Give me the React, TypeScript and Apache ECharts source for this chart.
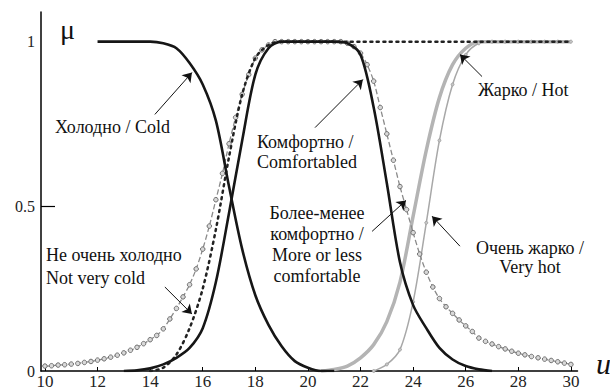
import React, { useEffect, useRef } from "react";
import * as echarts from "echarts";

const N = null;
// x grid (u, °C) at 0.5 steps from 10 to 30
const U = Array.from({ length: 41 }, (_, i) => 10 + i * 0.5);
// x grid at 0.25 steps for the marker series
const U4 = Array.from({ length: 81 }, (_, i) => 10 + i * 0.25);

const xTicks = [10, 12, 14, 16, 18, 20, 22, 24, 26, 28, 30];
const yLabels = [0, 0.5, 1];
const yTicks = [0.5];

// Холодно / Cold
const cold = [N, N, N, N, 1, 1, 1, 1, 1, 0.995, 0.98, 0.935, 0.87, 0.76, 0.56, 0.37, 0.23, 0.14, 0.075, 0.03, 0.01, 0, 0,
  N, N, N, N, N, N, N, N, N, N, N, N, N, N, N, N, N, N];
// Комфортно / Comfortabled
const comfort = [N, N, N, N, N, N, 0, 0.002, 0.008, 0.02, 0.04, 0.07, 0.13, 0.27, 0.48, 0.7, 0.9, 0.98, 1, 1, 1, 1, 1,
  0.995, 0.96, 0.8, 0.57, 0.33, 0.2, 0.13, 0.07, 0.035, 0.015, 0.005, 0, N, N, N, N, N, N];
// Не очень холодно / Not very cold
const notVeryCold = [N, N, N, N, N, N, N, N, 0, 0.01, 0.05, 0.13, 0.25, 0.43, 0.65, 0.84, 0.95, 0.99,
  1, 1, 1, 1, 1, 1, 1, 1, 1, 1, 1, 1, 1, 1, 1, 1, 1, 1, 1, 1, 1, 1, 1];
// Жарко / Hot
const hot = [N, N, N, N, N, N, N, N, N, N, N, N, N, N, N, N, N, N, N, N, N,
  0, 0.005, 0.015, 0.04, 0.08, 0.15, 0.27, 0.47, 0.67, 0.83, 0.93, 0.98, 1, 1, 1, 1, 1, 1, 1, 1];
// Очень жарко / Very hot
const veryHot = [N, N, N, N, N, N, N, N, N, N, N, N, N, N, N, N, N, N, N, N, N, N, N, N, N,
  0, 0.02, 0.065, 0.21, 0.45, 0.7, 0.87, 0.96, 0.995, 1, 1, 1, 1, 1, 1, 1];
// Более-менее комфортно / More or less comfortable (0.25 steps)
const moreOrLess = [
  0.015, 0.016, 0.018, 0.019, 0.021, 0.023, 0.026, 0.029,
  0.033, 0.037, 0.042, 0.048, 0.055, 0.063, 0.072, 0.083,
  0.095, 0.108, 0.128, 0.158, 0.19, 0.225, 0.262, 0.31,
  0.37, 0.44, 0.52, 0.6, 0.69, 0.77, 0.84, 0.9,
  0.95, 0.975, 0.99, 1, 1, 1, 1, 1,
  1, 1, 1, 1, 1, 1, 0.995, 0.985,
  0.965, 0.93, 0.88, 0.8, 0.72, 0.64, 0.56, 0.49,
  0.42, 0.355, 0.3, 0.255, 0.22, 0.195, 0.175, 0.155,
  0.137, 0.12, 0.1, 0.09, 0.082, 0.074, 0.067, 0.06,
  0.054, 0.049, 0.044, 0.04, 0.036, 0.032, 0.028, 0.024,
  0.02,
];

// annotation arrows in data coordinates: [fromU, fromMu, toU, toMu]
const arrows = [
  [14.18, 0.779, 15.59, 0.906],
  [20.27, 0.739, 22.09, 0.885],
  [26.62, 0.894, 25.78, 0.961],
  [22.44, 0.424, 23.73, 0.518],
  [25.78, 0.379, 24.72, 0.47],
  [14.56, 0.255, 15.59, 0.173],
];

const labelTexts = [
  "Холодно / Cold",
  "Комфортно /\nComfortabled",
  "Жарко / Hot",
  "Более-менее\nкомфортно /\nMore or less\ncomfortable",
  "Очень жарко /\nVery hot",
  "Не очень холодно\nNot very cold",
];

const SERIF = "'Liberation Serif', 'Times New Roman', Times, serif";

function pairs(xs: number[], ys: (number | null)[]) {
  return xs.map((x, i) => (ys[i] == null ? null : [x, ys[i]])).filter((p) => p !== null);
}

export default function App() {
  const ref = useRef<HTMLDivElement>(null);
  useEffect(() => {
    if (!ref.current) return;
    const chart = echarts.init(ref.current, null, { renderer: "svg" });
    const txt = (text: string, x: number, y: number, align: string, size = 18, lh = 21, italic = false) => ({
      type: "text",
      x,
      y,
      silent: true,
      z: 100,
      style: {
        text,
        fill: "#111",
        fontFamily: SERIF,
        fontSize: size,
        fontStyle: italic ? "italic" : "normal",
        textAlign: align,
        textVerticalAlign: "middle",
        lineHeight: lh,
      },
    });
    const option: any = {
      animation: false,
      textStyle: { fontFamily: SERIF },
      grid: { left: 41, right: 32.5, top: 12, bottom: 18, containLabel: false },
      xAxis: {
        type: "value",
        min: 9.85,
        max: 30.25,
        axisLine: { show: true, lineStyle: { color: "#000", width: 1.5 } },
        axisTick: { show: true, inside: true, length: 4, lineStyle: { color: "#000" }, customValues: xTicks },
        axisLabel: { customValues: xTicks, color: "#222", fontSize: 17, fontFamily: SERIF, margin: 2 },
        splitLine: { show: false },
      },
      yAxis: {
        type: "value",
        min: 0,
        max: 1.09,
        axisLine: { show: true, lineStyle: { color: "#000", width: 1.5 } },
        axisTick: { show: true, inside: true, length: 14, lineStyle: { color: "#000", width: 1.2 }, customValues: yTicks },
        axisLabel: { customValues: yLabels, color: "#222", fontSize: 16, fontFamily: SERIF, margin: 6 },
        splitLine: { show: false },
      },
      series: [
        {
          name: "Жарко / Hot",
          type: "line",
          data: pairs(U, hot),
          smooth: 0.3,
          showSymbol: false,
          z: 2,
          lineStyle: { color: "#b4b4b4", width: 3.5 },
        },
        {
          name: "Очень жарко / Very hot",
          type: "line",
          data: pairs(U, veryHot),
          smooth: 0.3,
          symbol: "circle",
          symbolSize: 3,
          showAllSymbol: true,
          z: 3,
          itemStyle: { color: "#c8c8c8", borderColor: "#999", borderWidth: 0.8 },
          lineStyle: { color: "#a8a8a8", width: 1.5 },
        },
        {
          name: "Более-менее комфортно / More or less comfortable",
          type: "line",
          data: pairs(U4, moreOrLess),
          smooth: 0.3,
          symbol: "circle",
          symbolSize: 4.5,
          showAllSymbol: true,
          z: 4,
          itemStyle: { color: "#d8d8d8", borderColor: "#6e6e6e", borderWidth: 1 },
          lineStyle: { color: "#8a8a8a", width: 1.3, type: "dashed" },
        },
        {
          name: "Не очень холодно / Not very cold",
          type: "line",
          data: pairs(U, notVeryCold),
          smooth: 0.3,
          showSymbol: false,
          z: 5,
          lineStyle: { color: "#222", width: 2.5, type: [2, 4.5], cap: "round" },
        },
        {
          name: "Комфортно / Comfortabled",
          type: "line",
          data: pairs(U, comfort),
          smooth: 0.3,
          showSymbol: false,
          z: 6,
          lineStyle: { color: "#161616", width: 2.6 },
        },
        {
          name: "Холодно / Cold",
          type: "line",
          data: pairs(U, cold),
          smooth: 0.3,
          showSymbol: false,
          z: 7,
          lineStyle: { color: "#161616", width: 2.6 },
          markLine: {
            silent: true,
            symbol: ["none", "arrow"],
            symbolSize: 9,
            label: { show: false },
            emphasis: { disabled: true },
            lineStyle: { color: "#111", width: 1, type: "solid" },
            data: arrows.map((a) => [{ coord: [a[0], a[1]] }, { coord: [a[2], a[3]] }]),
          },
        },
      ],
      graphic: [
        txt("μ", 60, 29, "left", 28),
        txt("u", 596, 363, "left", 30, 30, true),
        txt(labelTexts[0], 55, 127, "left"),
        txt(labelTexts[1], 257, 152, "left", 18, 20),
        txt(labelTexts[2], 478, 90, "left"),
        txt(labelTexts[3], 317, 244.5, "center", 18, 21),
        txt(labelTexts[4], 530, 257, "center", 18, 19),
        txt(labelTexts[5], 46, 266.5, "left", 18, 23),
      ],
    };
    chart.setOption(option);
    return () => chart.dispose();
  }, []);
  return <div ref={ref} style={{ position: "fixed", left: 0, top: 0, width: 610, height: 390, background: "#fff" }} />;
}
